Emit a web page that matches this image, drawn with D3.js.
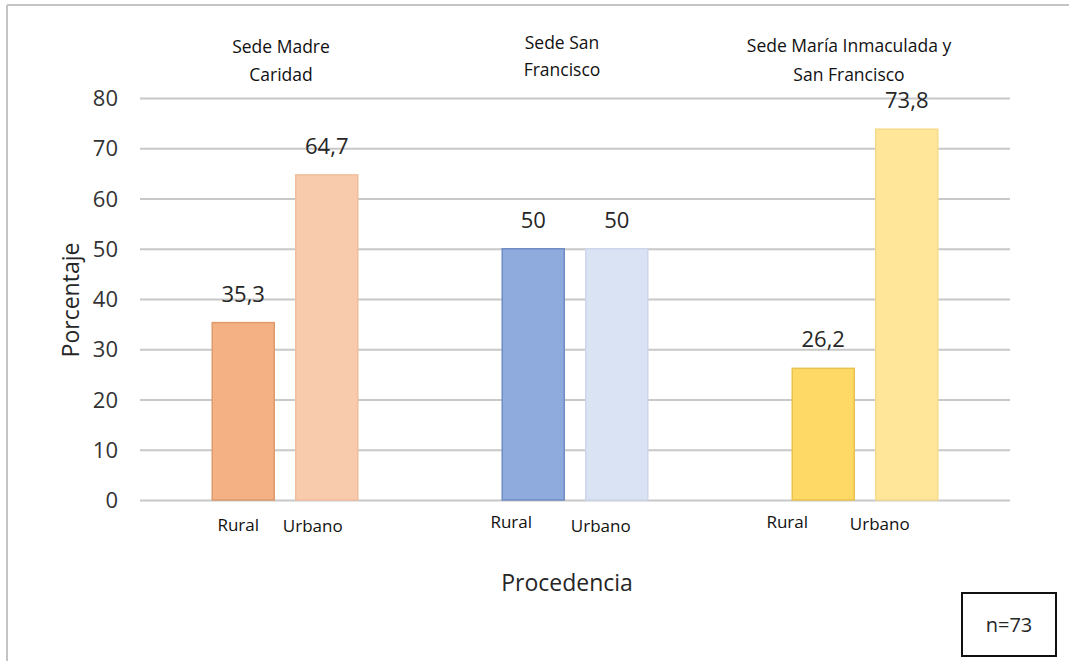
<!DOCTYPE html>
<html>
<head>
<meta charset="utf-8">
<script src="https://cdn.jsdelivr.net/npm/d3@7"></script>
<style>
  html, body { margin: 0; padding: 0; background: #fff; }
  svg { display: block; }
  text { font-family: "Open Sans", "Noto Sans", sans-serif; fill: #262626; }
  text.small { fill: #111; font-weight: 500; }
</style>
</head>
<body>
<svg id="chart" width="1069" height="661"></svg>
<script>
// Sites (groups) and their two-line headings
const sedes = ["madre", "sanfrancisco", "maria"];
const sedeTitles = [
  ["Sede Madre", "Caridad"],
  ["Sede San", "Francisco"],
  ["Sede María Inmaculada y", "San Francisco"]
];
// Origin categories
const procedencias = ["Rural", "Urbano"];
// Percentages per site: [Rural, Urbano]
const rural  = [35.3, 50, 26.2];
const urbano = [64.7, 50, 73.8];
const valueLabels = [["35,3", "64,7"], ["50", "50"], ["26,2", "73,8"]];
// Y axis ticks
const yTicks = [0, 10, 20, 30, 40, 50, 60, 70, 80];
const sampleNote = "n=73";

// Fill and edge colours per site: [Rural, Urbano]
const fills  = [["#F4B183", "#F8CBAD"], ["#8FAADC", "#DAE3F3"], ["#FFD966", "#FFE699"]];
const edges  = [["#DE9A6B", "#F0BE9C"], ["#6F8CC4", "#CCD7EC"], ["#EAC24F", "#F5DC8C"]];

// Hand-placed nudges for category labels (dx from bar centre, baseline y)
const catDx = [[-5, -14], [-22, -16], [-36, -27]];
const catY  = [[531, 532], [528, 532], [528, 530]];
// Site heading nudges (dx from group centre, first-line baseline y)
const titleDx = [-4, -13, -16];
const titleY  = [53, 49, 52];
const titleGap = [28, 27, 29];

const svg = d3.select("#chart");
const W = 1069, H = 661;

// Frame lines (top and left)
svg.append("line").attr("x1", 7).attr("x2", W).attr("y1", 5).attr("y2", 5)
  .attr("stroke", "#c4c4c4").attr("stroke-width", 2);
svg.append("line").attr("x1", 7).attr("x2", 7).attr("y1", 5).attr("y2", H)
  .attr("stroke", "#c4c4c4").attr("stroke-width", 2);

const plotL = 140, plotR = 1010, plotT = 98, plotB = 500;

const y = d3.scaleLinear().domain([0, 80]).range([plotB, plotT]);
const x0 = d3.scaleBand().domain(sedes).range([plotL, plotR]).padding(0);
const x1 = d3.scaleBand().domain(procedencias).range([0, x0.bandwidth()])
  .paddingInner(0.2395).paddingOuter(0.856);

// Gridlines and tick labels
const yAxis = d3.axisLeft(y).tickValues(yTicks).tickSize(-(plotR - plotL)).tickPadding(22)
  .tickFormat(d3.format("d"));
const gAxis = svg.append("g").attr("transform", `translate(${plotL},0)`).call(yAxis);
gAxis.select(".domain").remove();
gAxis.selectAll(".tick line").attr("stroke", "#c8c8c8").attr("stroke-width", 2);
gAxis.selectAll(".tick text")
  .style("font-size", "22px").style("fill", "#333").attr("dy", "0.35em");

// Bars
const rows = sedes.map((s, i) => ({ sede: s, i, vals: [rural[i], urbano[i]] }));
const groups = svg.selectAll("g.sede").data(rows).join("g")
  .attr("class", "sede")
  .attr("transform", d => `translate(${x0(d.sede)},0)`);

groups.selectAll("rect").data(d => procedencias.map((p, j) => ({ p, j, v: d.vals[j], i: d.i })))
  .join("rect")
  .attr("x", d => x1(d.p) + 0.75)
  .attr("y", d => y(d.v))
  .attr("width", x1.bandwidth() - 1.5)
  .attr("height", d => y(0) - y(d.v))
  .attr("fill", d => fills[d.i][d.j])
  .attr("stroke", d => edges[d.i][d.j])
  .attr("stroke-width", 1.5);

// Value labels above bars
groups.selectAll("text.val").data(d => procedencias.map((p, j) => ({ p, j, v: d.vals[j], i: d.i })))
  .join("text")
  .attr("class", "val")
  .attr("x", d => x1(d.p) + x1.bandwidth() / 2)
  .attr("y", d => y(d.v) - 21)
  .attr("text-anchor", "middle")
  .style("font-size", "22px")
  .text(d => valueLabels[d.i][d.j]);

// Category labels under bars
groups.selectAll("text.cat").data(d => procedencias.map((p, j) => ({ p, j, i: d.i })))
  .join("text")
  .attr("class", "cat small")
  .attr("x", d => x1(d.p) + x1.bandwidth() / 2 + catDx[d.i][d.j])
  .attr("y", d => catY[d.i][d.j])
  .attr("text-anchor", "middle")
  .style("font-size", "17px")
  .text(d => d.p);

// Site headings
groups.each(function (d) {
  const t = d3.select(this).append("text")
    .attr("class", "small")
    .attr("text-anchor", "middle")
    .style("font-size", "17.5px");
  sedeTitles[d.i].forEach((line, k) => {
    t.append("tspan")
      .attr("x", x0.bandwidth() / 2 + titleDx[d.i])
      .attr("y", titleY[d.i] + k * titleGap[d.i])
      .text(line);
  });
});

// Axis titles
svg.append("text")
  .attr("transform", `translate(79,300) rotate(-90)`)
  .attr("text-anchor", "middle")
  .style("font-size", "23px")
  .text("Porcentaje");
svg.append("text")
  .attr("x", 567).attr("y", 591)
  .attr("text-anchor", "middle")
  .style("font-size", "23px")
  .text("Procedencia");

// Sample size box
svg.append("rect").attr("x", 962).attr("y", 593).attr("width", 94).attr("height", 63)
  .attr("fill", "#fff").attr("stroke", "#111").attr("stroke-width", 2);
svg.append("text").attr("x", 1009).attr("y", 632)
  .attr("text-anchor", "middle").style("font-size", "20px")
  .text(sampleNote);
</script>
</body>
</html>
